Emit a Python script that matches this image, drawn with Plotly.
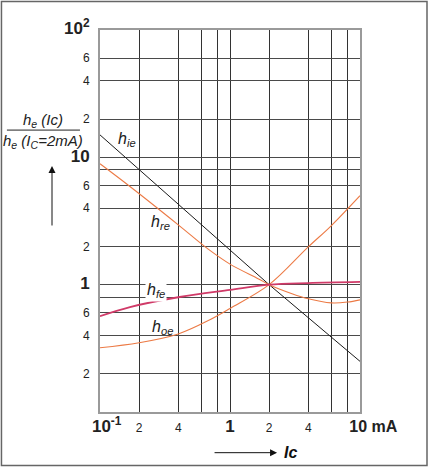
import plotly.graph_objects as go

# ---------------- data ----------------
ic_ie = [0.1, 0.41, 2, 10]
h_ie = [15.0, 4.2, 1.0, 0.25]

ic_re = [0.1, 0.17, 0.4, 0.68, 1, 1.66, 2, 3, 4, 6, 8, 10]
h_re = [8.9, 5.9, 2.95, 1.9, 1.45, 1.11, 1.0, 0.85, 0.776, 0.72, 0.73, 0.76]

ic_fe = [0.1, 0.17, 0.41, 1, 2, 4, 10]
h_fe = [0.566, 0.667, 0.80, 0.91, 1.0, 1.03, 1.05]

ic_oe = [0.1, 0.2, 0.4, 0.7, 1, 2, 4, 6, 10]
h_oe = [0.32, 0.35, 0.41, 0.53, 0.65, 1.0, 1.98, 2.9, 5.0]

x_tickvals = [0.1, 0.2, 0.4, 0.6, 0.8, 1, 2, 4, 6, 8, 10]
x_ticktext = ["&nbsp;&nbsp;&nbsp;&nbsp;<b><span style='font-size:17px'>10<sup>-1</sup></span></b>",
              "2", "4", "", "", "<b><span style='font-size:17px'>1</span></b>", "2", "4", "", "",
              "&nbsp;&nbsp;&nbsp;&nbsp;&nbsp;&nbsp;&nbsp;&nbsp;<b><span style='font-size:16px'>10 mA</span></b>"]

y_tickvals = [0.1, 0.2, 0.4, 0.6, 0.8, 1, 2, 4, 6, 8, 10, 20, 40, 60, 100]
y_ticktext = ["", "2", "4", "6", "", "<b><span style='font-size:17px'>1</span></b>", "2", "4", "6", "",
              "<b><span style='font-size:17px'>10</span></b>", "2", "4", "6",
              "<b><span style='font-size:17px'>10<sup>2</sup></span></b>"]

# ---------------- figure ----------------
fig = go.Figure()
fig.add_trace(go.Scatter(x=ic_ie, y=h_ie, mode="lines", line=dict(color="#1a1a1a", width=1)))
fig.add_trace(go.Scatter(x=ic_re, y=h_re, mode="lines", line=dict(color="#ec7a45", width=1.1, shape="spline")))
fig.add_trace(go.Scatter(x=ic_oe, y=h_oe, mode="lines", line=dict(color="#ec7a45", width=1.1, shape="spline")))
fig.add_trace(go.Scatter(x=ic_fe, y=h_fe, mode="lines", line=dict(color="#d03a68", width=1.8, shape="spline")))

font_main = "Liberation Sans, Arial, sans-serif"

fig.update_layout(
    width=429, height=468,
    margin=dict(l=100, r=69, t=30, b=56),
    paper_bgcolor="white", plot_bgcolor="white",
    showlegend=False,
    font=dict(family=font_main, color="#222", size=12),
    xaxis=dict(type="log", range=[-1, 1], tickmode="array", tickvals=x_tickvals, ticktext=x_ticktext,
               showgrid=True, gridcolor="#333", gridwidth=1, ticks="",
               showline=True, linecolor="#9a9a9a", linewidth=2, mirror=True,
               tickfont=dict(size=12, color="#222"), ticklabelstandoff=4),
    yaxis=dict(type="log", range=[-1, 2], tickmode="array", tickvals=y_tickvals, ticktext=y_ticktext,
               showgrid=True, gridcolor="#4a4a4a", gridwidth=1.4, ticks="",
               showline=True, linecolor="#9a9a9a", linewidth=2, mirror=True,
               tickfont=dict(size=12, color="#222"), ticklabelstandoff=6),
)

lab_font = dict(family=font_main, size=16, color="#222")
fig.add_annotation(x=-0.793, y=1.14, xref="x", yref="y", text="<i>h<sub>ie</sub></i>", showarrow=False, font=lab_font)
fig.add_annotation(x=-0.532, y=0.49, xref="x", yref="y", text="<i>h<sub>re</sub></i>", showarrow=False, font=lab_font)
fig.add_annotation(x=-0.569, y=-0.045, xref="x", yref="y", text="<i>h<sub>fe</sub></i>", showarrow=False,
                   font=lab_font, bgcolor="white")
fig.add_annotation(x=-0.516, y=-0.337, xref="x", yref="y", text="<i>h<sub>oe</sub></i>", showarrow=False, font=lab_font)

# y-axis title as fraction
tfont = dict(family=font_main, size=15, color="#222")
fig.add_annotation(x=-0.219, y=0.764, xref="paper", yref="paper", xanchor="center", yanchor="middle",
                   text="<i>h<sub>e</sub> (Ic)</i>", showarrow=False, font=tfont)
fig.add_annotation(x=-0.219, y=0.709, xref="paper", yref="paper", xanchor="center", yanchor="middle",
                   text="<i>h<sub>e</sub> (I<sub>C</sub>=2mA)</i>", showarrow=False, font=tfont)
fig.add_shape(type="line", xref="paper", yref="paper", x0=-0.358, x1=-0.077, y0=0.738, y1=0.738,
              line=dict(color="#222", width=1))
# up arrow
fig.add_annotation(x=-0.1846, y=0.644, xref="paper", yref="paper", text="", showarrow=True,
                   ax=0, ay=61, arrowhead=2, arrowsize=1.4, arrowwidth=1, arrowcolor="#111")
# Ic arrow
fig.add_annotation(x=0.681, y=-0.1065, xref="paper", yref="paper", text="", showarrow=True,
                   ax=-64, ay=0, arrowhead=2, arrowsize=1.4, arrowwidth=1, arrowcolor="#111")
fig.add_annotation(x=0.731, y=-0.1065, xref="paper", yref="paper", xanchor="center", yanchor="middle",
                   text="<b><i>Ic</i></b>", showarrow=False, font=dict(family=font_main, size=16, color="#111"))

# outer border
fig.add_shape(type="rect", xref="paper", yref="paper", x0=-0.379, x1=1.2577, y0=-0.140, y1=1.0746,
              line=dict(color="#666", width=1.5))

fig.write_html("out.html")
